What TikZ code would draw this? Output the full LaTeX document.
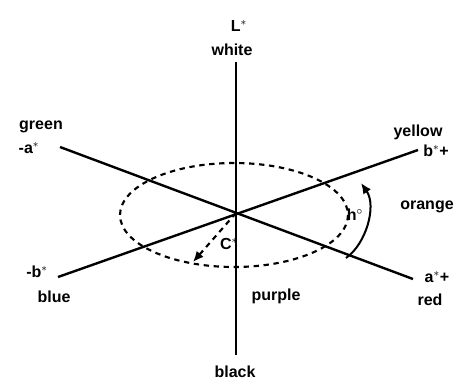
\documentclass[tikz,border=0pt]{standalone}
\usepackage{fontspec}
\setmainfont{Liberation Sans}
\usetikzlibrary{arrows.meta}
\begin{document}
\begin{tikzpicture}[x=0.75pt,y=-0.75pt,
  lbl/.style={font=\fontsize{12}{14}\selectfont\bfseries, inner sep=1pt},
  axis/.style={line width=1.8pt},
  ring/.style={line width=1.6pt, dash pattern=on 4pt off 3.5pt},
  huearrow/.style={line width=1.5pt, -{Latex[length=8pt,width=7pt]}}]
\useasboundingbox (0,0) rectangle (465,383);
% axes
\coordinate (O) at (236,213);
\coordinate (Ltop) at (236,62);
\coordinate (Lbot) at (236,355);
\coordinate (Aneg) at (60,147);
\coordinate (Apos) at (413,279);
\coordinate (Bneg) at (58,277);
\coordinate (Bpos) at (418,150);
\draw[axis] (Ltop) -- (Lbot);
\draw[axis] (Aneg) -- (Apos);
\draw[axis] (Bneg) -- (Bpos);
% chroma ring
\draw[ring] (234,215) ellipse [x radius=114, y radius=52];
% chroma arrow
\coordinate (Cend) at (193,262);
\draw[ring, -{Latex[length=8pt,width=7pt]}] (O) -- (Cend);
% hue arrow
\coordinate (Hs) at (346,258);
\coordinate (He) at (361,183);
\draw[huearrow] (Hs) .. controls (366,244) and (377,206) .. (He);
% labels
\node[lbl] (Lstar) at (239,26) {L$^*$};
\node[lbl] (white) at (232,50) {white};
\node[lbl] (green) at (41,127) {green};
\node[lbl] (aneg) at (29,148) {-a$^*$};
\node[lbl] (yellow) at (418,132) {yellow};
\node[lbl] (bpos) at (436,151) {b$^*$+};
\node[lbl] (orange) at (427,207) {orange};
\node[lbl] (h) at (355,215) {h$^\circ$};
\node[lbl] (C) at (229,244) {C$^*$};
\node[lbl] (bneg) at (37,272) {-b$^*$};
\node[lbl] (blue) at (54,297) {blue};
\node[lbl] (purple) at (276,296) {purple};
\node[lbl] (apos) at (437,277) {a$^*$+};
\node[lbl] (red) at (430,300) {red};
\node[lbl] (black) at (235,372) {black};
\end{tikzpicture}
\end{document}
